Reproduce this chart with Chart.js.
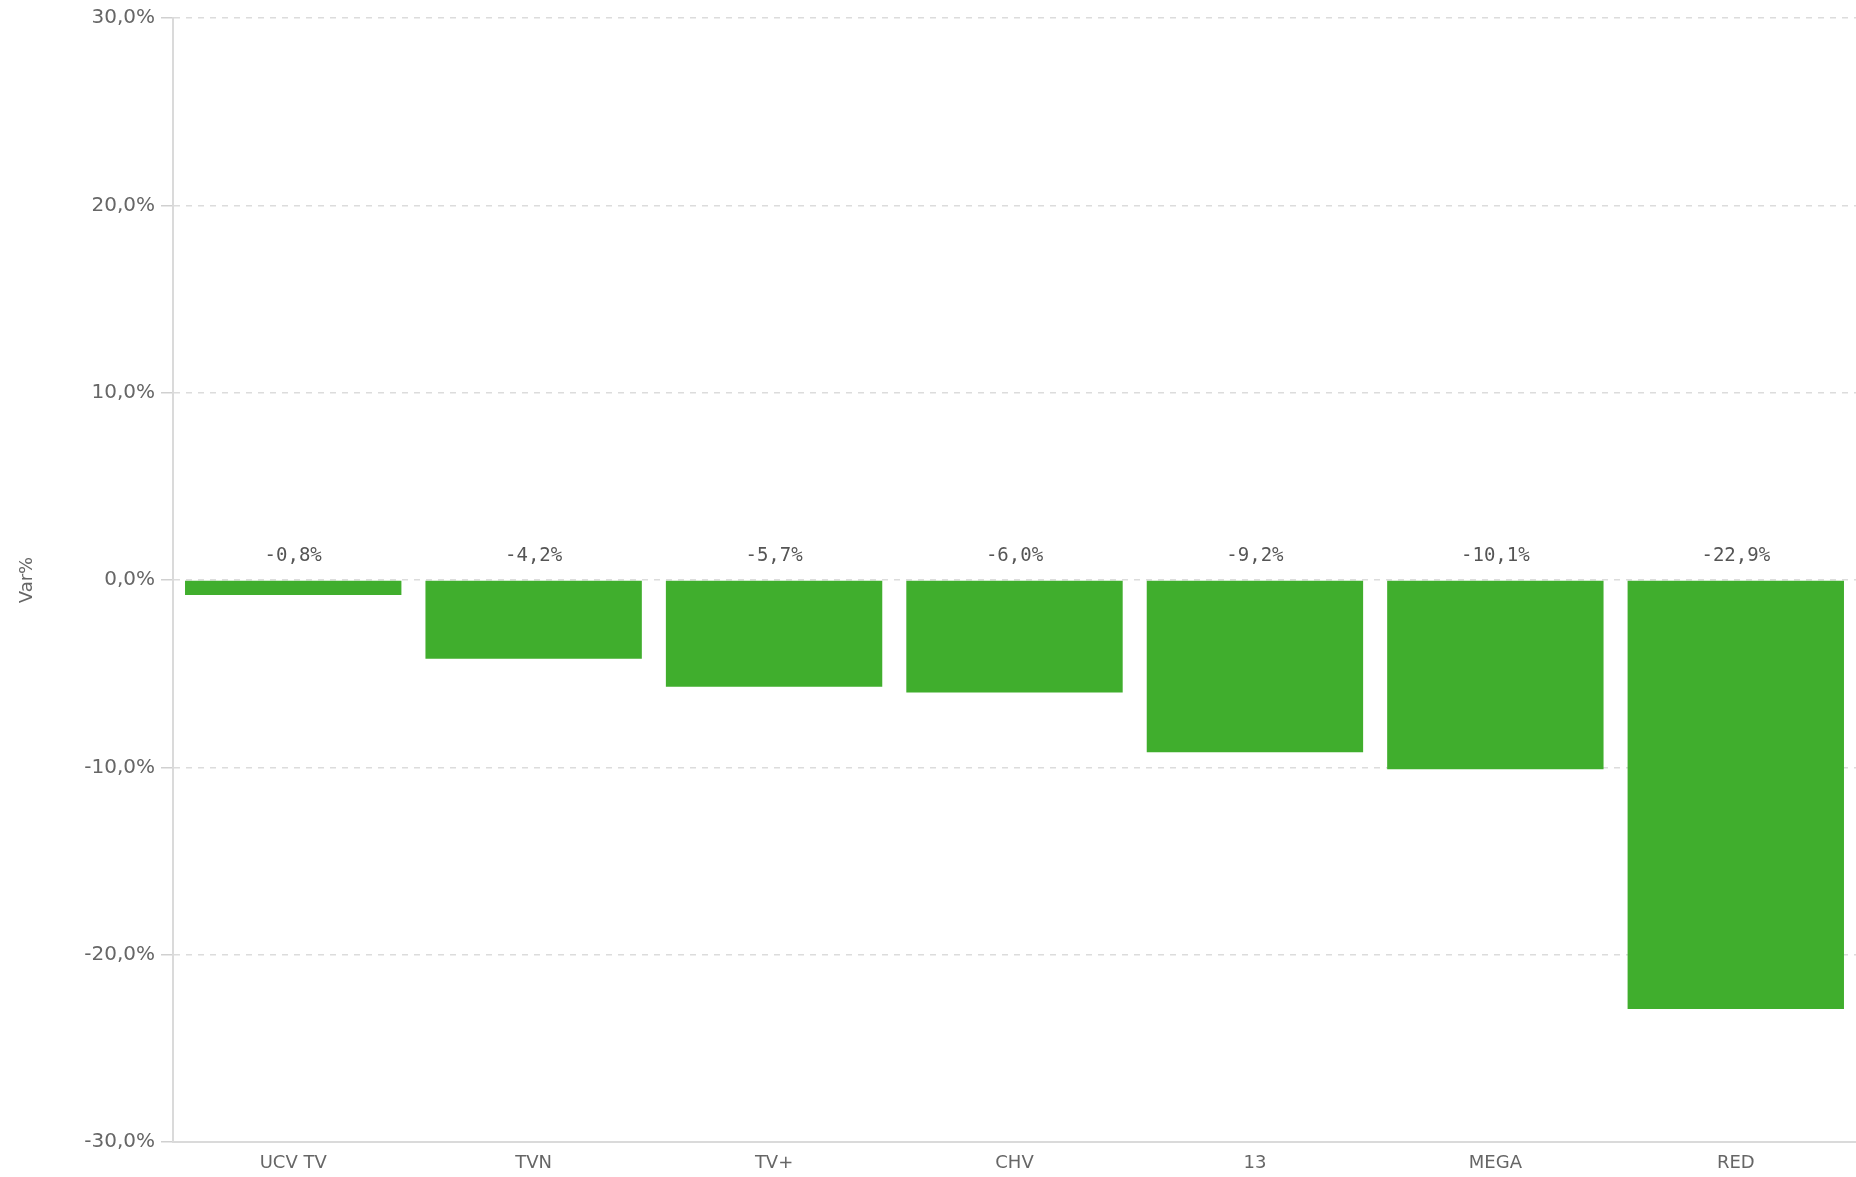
<!DOCTYPE html>
<html>
<head>
<meta charset="utf-8">
<script src="https://cdn.jsdelivr.net/npm/chart.js@4.4.1/dist/chart.umd.min.js"></script>
<style>
  html, body { margin: 0; padding: 0; background: #fff; }
  #wrap { width: 1856px; height: 1177px; position: relative; }
</style>
</head>
<body>
<div id="wrap"><canvas id="chart"></canvas></div>
<script>
const channels = ['UCV TV', 'TVN', 'TV+', 'CHV', '13', 'MEGA', 'RED'];
const variation = [-0.8, -4.2, -5.7, -6.0, -9.2, -10.1, -22.9];
const yTicks = [-30, -20, -10, 0, 10, 20, 30];

const fmt = v => v.toFixed(1).replace('.', ',') + '%';

// value labels sit just above the zero line
const zeroLabels = {
  id: 'zeroLabels',
  afterDatasetsDraw(chart) {
    const ctx = chart.ctx;
    const y0 = chart.scales.y.getPixelForValue(0);
    ctx.save();
    ctx.font = '19px "DejaVu Sans Mono", monospace';
    ctx.fillStyle = '#555';
    ctx.textAlign = 'center';
    ctx.textBaseline = 'middle';
    chart.getDatasetMeta(0).data.forEach((bar, i) => {
      ctx.fillText(fmt(variation[i]), bar.x, y0 - 24);
    });
    ctx.restore();
  }
};

new Chart(document.getElementById('chart'), {
  type: 'bar',
  data: {
    labels: channels,
    datasets: [{
      data: variation,
      backgroundColor: '#40ae2d',
      borderWidth: 0,
      barPercentage: 0.9,
      categoryPercentage: 1.0
    }]
  },
  options: {
    responsive: true,
    maintainAspectRatio: false,
    animation: false,
    layout: { padding: { top: 17, right: 0, bottom: 0, left: 0 } },
    plugins: { legend: { display: false }, tooltip: { enabled: false } },
    scales: {
      x: {
        grid: { display: false, drawTicks: false },
        border: { color: '#dadada', width: 2 },
        ticks: { color: '#666', font: { family: 'DejaVu Sans', size: 18 }, padding: 11 },
        afterFit(scale) { scale.height = 35; }
      },
      y: {
        min: -30,
        max: 30,
        afterBuildTicks(scale) { scale.ticks = yTicks.map(v => ({ value: v })); },
        grid: {
          color: '#dcdcdc',
          lineWidth: 1.5,
          tickLength: 12,
          tickColor: '#d0d0d0',
          tickBorderDash: []
        },
        border: { color: '#dadada', width: 2, dash: [6, 6] },
        ticks: {
          color: '#666',
          padding: 6,
          font: { family: 'DejaVu Sans', size: 20 },
          callback: v => fmt(v)
        },
        title: {
          display: true,
          text: 'Var%',
          color: '#666',
          padding: { top: 17, bottom: 0 },
          font: { family: 'DejaVu Sans', size: 18 }
        },
        afterFit(scale) { scale.width = 173; }
      }
    }
  },
  plugins: [zeroLabels]
});
</script>
</body>
</html>
